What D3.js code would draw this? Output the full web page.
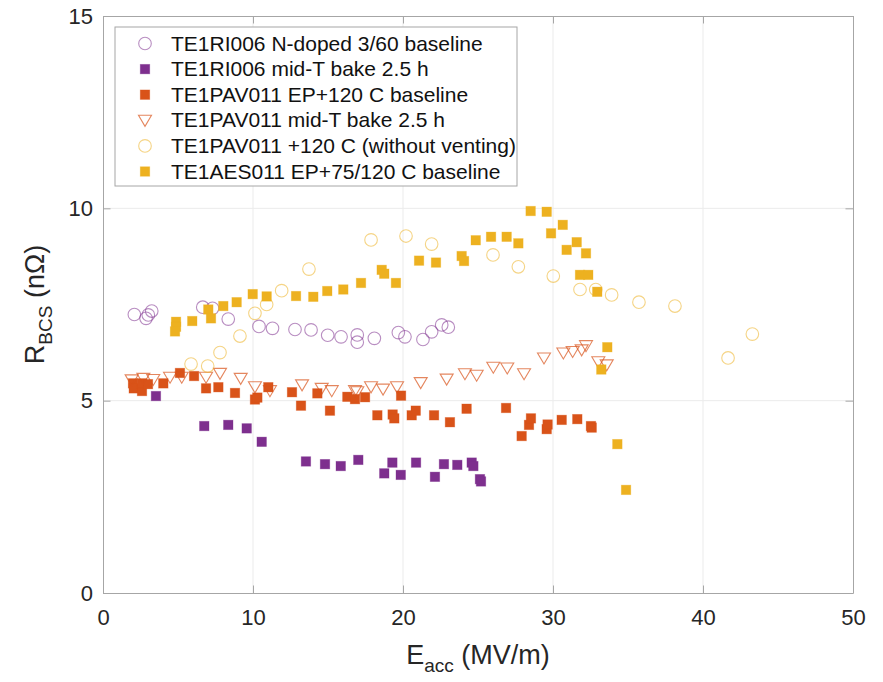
<!DOCTYPE html>
<html>
<head>
<meta charset="utf-8">
<script src="https://cdn.jsdelivr.net/npm/d3@7"></script>
<style>
  html, body { margin: 0; padding: 0; background: #fff; overflow: hidden; }
  svg { display: block; }
  svg text { font-family: "Liberation Sans", Arial, Helvetica, sans-serif; }
</style>
</head>
<body>
<div id="chart"></div>
<script>
// TE1RI006 N-doped 3/60 baseline (open circles)
const riBaseX = [2.09, 2.87, 3.02, 3.25, 6.65, 7.3, 8.35, 10.4, 11.3, 12.8, 13.87, 14.98, 15.87, 16.95, 16.95, 18.09, 19.69, 20.13, 21.33, 21.91, 22.58, 23.02];
const riBaseY = [7.24, 7.14, 7.23, 7.33, 7.43, 7.40, 7.12, 6.93, 6.88, 6.85, 6.84, 6.70, 6.66, 6.71, 6.52, 6.62, 6.77, 6.66, 6.59, 6.79, 6.97, 6.91];

// TE1RI006 mid-T bake 2.5 h (filled squares)
const riMidX = [3.53, 6.75, 8.35, 9.58, 10.58, 13.53, 14.8, 15.85, 17.02, 18.75, 19.29, 19.85, 20.87, 22.13, 22.73, 23.62, 24.58, 24.69, 25.13, 25.2];
const riMidY = [5.12, 4.34, 4.37, 4.28, 3.93, 3.42, 3.35, 3.30, 3.46, 3.11, 3.39, 3.07, 3.39, 3.02, 3.35, 3.33, 3.39, 3.30, 2.96, 2.90];

// TE1PAV011 EP+120 C baseline (filled squares)
const pavBaseX = [2.0, 2.05, 2.6, 2.6, 3.0, 4.02, 5.13, 6.07, 6.87, 7.69, 8.8, 10.13, 10.29, 11.02, 12.6, 13.2, 14.29, 15.13, 16.29, 16.8, 17.47, 18.29, 19.31, 19.42, 19.87, 20.58, 20.85, 22.07, 23.13, 24.24, 26.87, 27.91, 28.4, 28.53, 29.58, 29.64, 30.58, 31.62, 32.53, 32.58];
const pavBaseY = [5.45, 5.32, 5.25, 5.45, 5.43, 5.45, 5.72, 5.64, 5.32, 5.35, 5.20, 5.03, 5.08, 5.35, 5.22, 4.87, 5.19, 4.74, 5.10, 5.04, 5.09, 4.62, 4.64, 4.54, 5.13, 4.62, 4.74, 4.62, 4.44, 4.79, 4.81, 4.08, 4.37, 4.54, 4.26, 4.38, 4.50, 4.52, 4.34, 4.30];

// TE1PAV011 mid-T bake 2.5 h (open down triangles)
const pavMidX = [1.91, 2.69, 3.35, 4.47, 5.25, 6.87, 7.8, 9.18, 10.13, 11.13, 13.27, 14.58, 15.25, 16.8, 16.95, 17.87, 18.67, 19.6, 21.18, 22.91, 24.13, 24.91, 26.02, 26.95, 28.07, 29.4, 30.69, 31.31, 31.91, 32.2, 33.02, 33.58];
const pavMidY = [5.54, 5.58, 5.55, 5.61, 5.61, 5.61, 5.71, 5.58, 5.36, 5.26, 5.41, 5.32, 5.26, 5.26, 5.23, 5.36, 5.30, 5.36, 5.47, 5.56, 5.70, 5.66, 5.87, 5.85, 5.70, 6.11, 6.24, 6.28, 6.32, 6.43, 6.01, 5.93];

// TE1PAV011 +120 C (without venting) (open circles)
const pavBakeX = [5.87, 6.98, 7.8, 9.13, 10.13, 10.91, 11.91, 13.73, 17.87, 20.2, 21.91, 26.0, 27.69, 30.02, 31.8, 32.85, 33.91, 35.73, 38.13, 41.67, 43.29];
const pavBakeY = [5.95, 5.90, 6.25, 6.68, 7.27, 7.50, 7.86, 8.42, 9.18, 9.28, 9.07, 8.79, 8.48, 8.24, 7.89, 7.89, 7.75, 7.56, 7.46, 6.11, 6.73];

// TE1AES011 EP+75/120 C baseline (filled squares)
const aesBaseX = [4.87, 4.87, 4.8, 5.95, 7.02, 7.2, 8.02, 8.91, 9.98, 10.91, 12.87, 14.02, 14.95, 16.02, 17.2, 18.58, 18.75, 19.53, 21.07, 22.2, 23.91, 24.07, 24.85, 25.87, 26.91, 27.69, 28.51, 29.58, 29.87, 30.65, 30.91, 31.58, 32.2, 31.8, 32.35, 32.95, 33.62, 33.22, 34.29, 34.87];
const aesBaseY = [7.05, 6.92, 6.80, 7.07, 7.37, 7.14, 7.46, 7.56, 7.77, 7.71, 7.72, 7.70, 7.85, 7.89, 8.06, 8.40, 8.30, 8.06, 8.64, 8.59, 8.76, 8.63, 9.17, 9.26, 9.26, 9.09, 9.93, 9.91, 9.35, 9.57, 8.92, 9.12, 8.83, 8.27, 8.27, 7.83, 6.39, 5.81, 3.87, 2.68];

const xTicks = [0, 10, 20, 30, 40, 50];
const yTicks = [0, 5, 10, 15];

const series = [
  { name: "TE1RI006 N-doped 3/60 baseline", xs: riBaseX, ys: riBaseY, shape: "circle", color: "#7E2F8E" },
  { name: "TE1RI006 mid-T bake 2.5 h", xs: riMidX, ys: riMidY, shape: "square", color: "#7E2F8E" },
  { name: "TE1PAV011 EP+120 C baseline", xs: pavBaseX, ys: pavBaseY, shape: "square", color: "#D95319" },
  { name: "TE1PAV011 mid-T bake 2.5 h", xs: pavMidX, ys: pavMidY, shape: "triangle", color: "#D95319" },
  { name: "TE1PAV011 +120 C (without venting)", xs: pavBakeX, ys: pavBakeY, shape: "circle", color: "#EDB120" },
  { name: "TE1AES011 EP+75/120 C baseline", xs: aesBaseX, ys: aesBaseY, shape: "square", color: "#EDB120" }
];

const width = 883;
const height = 682;
const margin = { top: 16, right: 30, bottom: 89, left: 103 };
const innerWidth = width - margin.left - margin.right;
const innerHeight = height - margin.top - margin.bottom;

const svg = d3.select("#chart")
  .append("svg")
  .attr("width", width)
  .attr("height", height);

const g = svg.append("g")
  .attr("transform", `translate(${margin.left}, ${margin.top})`);

const x = d3.scaleLinear().domain([0, 50]).range([0, innerWidth]);
const y = d3.scaleLinear().domain([0, 15]).range([innerHeight, 0]);

// grid
g.append("g")
  .selectAll("line")
  .data(xTicks.slice(1, -1))
  .enter()
  .append("line")
  .attr("x1", d => x(d)).attr("x2", d => x(d))
  .attr("y1", 0).attr("y2", innerHeight)
  .attr("stroke", "#ebebeb");

g.append("g")
  .selectAll("line")
  .data(yTicks.slice(1, -1))
  .enter()
  .append("line")
  .attr("x1", 0).attr("x2", innerWidth)
  .attr("y1", d => y(d)).attr("y2", d => y(d))
  .attr("stroke", "#ebebeb");

// markers
const sq = 9.5;
function drawMarker(sel, shape, color) {
  if (shape === "square") {
    sel.append("rect")
      .attr("x", -sq / 2).attr("y", -sq / 2)
      .attr("width", sq).attr("height", sq)
      .attr("fill", color)
      .attr("stroke", color)
      .attr("stroke-opacity", 0.4)
      .attr("stroke-width", 0.8);
  } else if (shape === "circle") {
    sel.append("circle")
      .attr("r", 6.3)
      .attr("fill", "none")
      .attr("stroke", color)
      .attr("stroke-opacity", 0.55)
      .attr("stroke-width", 1.1);
  } else {
    sel.append("path")
      .attr("d", "M-6.5,-5 L6.5,-5 L0,6 Z")
      .attr("fill", "none")
      .attr("stroke", color)
      .attr("stroke-opacity", 0.7)
      .attr("stroke-width", 1.1);
  }
}

series.forEach(s => {
  const pts = s.xs.map((v, i) => ({ x: v, y: s.ys[i] }));
  g.append("g")
    .selectAll("g")
    .data(pts)
    .enter()
    .append("g")
    .attr("transform", d => `translate(${x(d.x)},${y(d.y)})`)
    .each(function () { drawMarker(d3.select(this), s.shape, s.color); });
});

// axes (ticks inside, on all four sides)
const tickLen = 7.5;
const axisColor = "#a6a6a6";

const xAxis = g.append("g")
  .attr("transform", `translate(0, ${innerHeight})`)
  .call(d3.axisBottom(x).tickValues(xTicks).tickSizeInner(-tickLen).tickSizeOuter(0).tickPadding(16));
const xTop = g.append("g")
  .call(d3.axisTop(x).tickValues(xTicks).tickSizeInner(-tickLen).tickSizeOuter(0));
const yAxis = g.append("g")
  .call(d3.axisLeft(y).tickValues(yTicks).tickSizeInner(-tickLen).tickSizeOuter(0).tickPadding(10));
const yRight = g.append("g")
  .attr("transform", `translate(${innerWidth}, 0)`)
  .call(d3.axisRight(y).tickValues(yTicks).tickSizeInner(-tickLen).tickSizeOuter(0));

// mirrored axes only carry tick marks
xTop.selectAll("text").remove();
yRight.selectAll("text").remove();

[xAxis, xTop, yAxis, yRight].forEach(a => {
  a.selectAll("path, line").attr("stroke", axisColor);
  a.selectAll("text")
    .style("font-size", "22px")
    .attr("fill", "#262626");
});

// axis labels
const xl = svg.append("text")
  .attr("x", margin.left + innerWidth / 2)
  .attr("y", 664)
  .attr("text-anchor", "middle")
  .style("font-size", "27px")
  .attr("fill", "#262626");
xl.append("tspan").text("E");
xl.append("tspan").attr("dy", 8).style("font-size", "19px").text("acc");
xl.append("tspan").attr("dy", -8).text(" (MV/m)");

const yl = svg.append("text")
  .attr("transform", `translate(44, ${margin.top + innerHeight / 2}) rotate(-90)`)
  .attr("text-anchor", "middle")
  .style("font-size", "27px")
  .attr("fill", "#262626");
yl.append("tspan").text("R");
yl.append("tspan").attr("dy", 8).style("font-size", "19px").text("BCS");
yl.append("tspan").attr("dy", -8).text(" (n\u03A9)");

// legend
const legend = svg.append("g")
  .attr("transform", "translate(115, 27)");

legend.append("rect")
  .attr("width", 402)
  .attr("height", 159)
  .attr("fill", "#fff")
  .attr("stroke", "#a6a6a6");

series.forEach((s, i) => {
  const row = legend.append("g")
    .attr("transform", `translate(30, ${16.5 + i * 25.6})`);
  drawMarker(row, s.shape, s.color);
  row.append("text")
    .attr("x", 26)
    .attr("y", 7)
    .style("font-size", "21px")
    .attr("fill", "#111")
    .text(s.name);
});
</script>
</body>
</html>
